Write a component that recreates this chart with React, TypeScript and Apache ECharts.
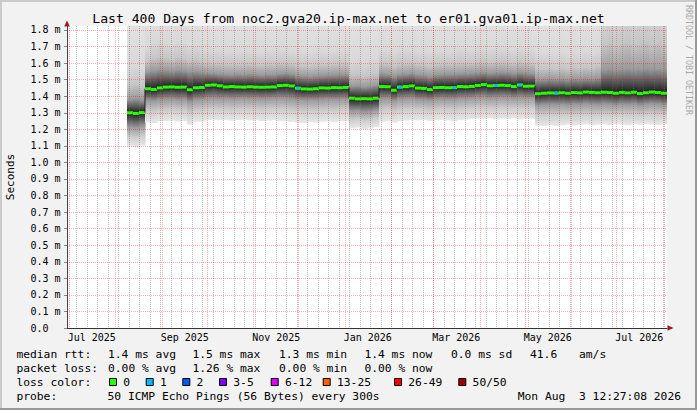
import React, { useEffect, useRef } from 'react';
import * as echarts from 'echarts';

const DAY = 86400000;
const T_START = Date.UTC(2025, 5, 29, 12, 27, 8);
const T_END = Date.UTC(2026, 7, 3, 12, 27, 8);
const COLUMN_START = Date.UTC(2025, 7, 8, 12, 0, 0);
const COLUMN_DAYS = 4;

// median RTT per 4-day column (ms)
const medianRtt = [
  1.300, 1.296, 1.301, 1.445, 1.441, 1.450, 1.455, 1.456, 1.454, 1.455,
  1.439, 1.451, 1.453, 1.466, 1.468, 1.463, 1.456, 1.458, 1.456, 1.455,
  1.457, 1.455, 1.454, 1.455, 1.456, 1.464, 1.466, 1.462, 1.448, 1.444,
  1.443, 1.445, 1.450, 1.449, 1.452, 1.451, 1.453, 1.388, 1.384, 1.385,
  1.384, 1.388, 1.458, 1.457, 1.436, 1.455, 1.458, 1.462, 1.449, 1.447,
  1.440, 1.452, 1.453, 1.451, 1.452, 1.458, 1.457, 1.459, 1.465, 1.470,
  1.463, 1.465, 1.466, 1.464, 1.458, 1.468, 1.460, 1.461, 1.415, 1.418,
  1.420, 1.419, 1.421, 1.418, 1.422, 1.420, 1.425, 1.423, 1.421, 1.424,
  1.422, 1.418, 1.423, 1.420, 1.424, 1.416, 1.421, 1.425, 1.422, 1.418,
];

// lost pings per column
const lossCount = [
  0, 0, 0, 0, 0, 0, 0, 0, 0, 0,
  0, 0, 0, 0, 0, 0, 0, 0, 0, 0,
  0, 0, 0, 0, 0, 0, 0, 0, 1, 0,
  0, 0, 0, 0, 0, 0, 0, 0, 0, 0,
  0, 0, 0, 0, 0, 1, 0, 0, 0, 0,
  0, 0, 0, 0, 1, 0, 0, 0, 0, 0,
  0, 1, 0, 0, 0, 1, 0, 0, 0, 0,
  0, 1, 0, 0, 0, 0, 0, 0, 0, 0,
  0, 0, 0, 0, 0, 0, 0, 0, 0, 0,
];

// smoke: lowest ping
const smokeLow = [
  1.095, 1.092, 1.100, 1.240, 1.238, 1.248, 1.250, 1.252, 1.247, 1.250,
  1.228, 1.245, 1.246, 1.255, 1.258, 1.254, 1.256, 1.252, 1.255, 1.258,
  1.253, 1.255, 1.250, 1.252, 1.255, 1.250, 1.248, 1.245, 1.240, 1.238,
  1.242, 1.240, 1.245, 1.248, 1.244, 1.247, 1.250, 1.205, 1.210, 1.200,
  1.205, 1.212, 1.245, 1.250, 1.240, 1.248, 1.252, 1.255, 1.253, 1.256,
  1.250, 1.254, 1.256, 1.253, 1.248, 1.255, 1.258, 1.262, 1.265, 1.262,
  1.266, 1.260, 1.264, 1.262, 1.265, 1.260, 1.263, 1.262, 1.222, 1.220,
  1.225, 1.220, 1.224, 1.228, 1.222, 1.226, 1.230, 1.224, 1.228, 1.230,
  1.226, 1.232, 1.228, 1.225, 1.230, 1.227, 1.232, 1.228, 1.226, 1.230,
];

// smoke: lower quartile
const smokeQ1 = [
  1.215, 1.210, 1.220, 1.375, 1.372, 1.378, 1.380, 1.382, 1.378, 1.380,
  1.365, 1.378, 1.380, 1.386, 1.388, 1.385, 1.387, 1.384, 1.386, 1.388,
  1.385, 1.386, 1.384, 1.385, 1.387, 1.388, 1.386, 1.382, 1.378, 1.376,
  1.377, 1.376, 1.380, 1.382, 1.380, 1.382, 1.384, 1.310, 1.312, 1.305,
  1.308, 1.315, 1.385, 1.386, 1.372, 1.384, 1.386, 1.388, 1.380, 1.379,
  1.375, 1.382, 1.384, 1.383, 1.382, 1.386, 1.387, 1.388, 1.392, 1.395,
  1.390, 1.392, 1.394, 1.393, 1.388, 1.392, 1.390, 1.391, 1.345, 1.348,
  1.350, 1.348, 1.350, 1.347, 1.351, 1.349, 1.353, 1.351, 1.349, 1.352,
  1.350, 1.346, 1.351, 1.349, 1.352, 1.345, 1.350, 1.353, 1.351, 1.347,
];

// smoke: upper quartile
const smokeQ3 = [
  1.380, 1.385, 1.375, 1.545, 1.555, 1.560, 1.558, 1.552, 1.560, 1.555,
  1.548, 1.550, 1.545, 1.540, 1.538, 1.535, 1.532, 1.530, 1.533, 1.531,
  1.534, 1.530, 1.528, 1.532, 1.530, 1.536, 1.538, 1.534, 1.525, 1.522,
  1.520, 1.524, 1.526, 1.528, 1.530, 1.532, 1.530, 1.462, 1.465, 1.458,
  1.462, 1.466, 1.535, 1.533, 1.522, 1.532, 1.535, 1.538, 1.530, 1.528,
  1.522, 1.530, 1.532, 1.534, 1.535, 1.536, 1.538, 1.540, 1.542, 1.545,
  1.540, 1.542, 1.545, 1.543, 1.538, 1.545, 1.540, 1.538, 1.500, 1.502,
  1.505, 1.503, 1.505, 1.500, 1.506, 1.504, 1.508, 1.506, 1.512, 1.560,
  1.565, 1.558, 1.562, 1.568, 1.560, 1.565, 1.570, 1.562, 1.566, 1.560,
];

// smoke: highest ping
const smokeHigh = [
  1.95, 1.97, 1.93, 2.00, 2.05, 2.08, 2.05, 2.02, 2.06, 2.04,
  2.00, 2.02, 1.98, 1.95, 1.94, 1.96, 1.93, 1.95, 1.94, 1.96,
  1.95, 1.93, 1.94, 1.96, 1.95, 1.97, 1.96, 1.94, 1.92, 1.93,
  1.92, 1.94, 1.95, 1.93, 1.95, 1.96, 1.94, 1.90, 1.92, 1.88,
  1.90, 1.92, 1.95, 1.96, 1.93, 1.95, 1.96, 1.97, 1.95, 1.94,
  1.93, 1.95, 1.96, 1.94, 1.95, 1.97, 1.96, 1.95, 1.97, 1.98,
  1.96, 1.97, 1.98, 1.96, 1.95, 1.97, 1.96, 1.95, 1.95, 1.93,
  1.94, 1.92, 1.95, 1.93, 1.96, 1.94, 1.97, 1.95, 1.99, 2.60,
  2.65, 2.55, 2.62, 2.70, 2.58, 2.64, 2.68, 2.60, 2.66, 2.58,
];

const monthLabels = ['Jul 2025', 'Sep 2025', 'Nov 2025', 'Jan 2026', 'Mar 2026', 'May 2026', 'Jul 2026'];
const monthLabelYM = [[2025, 6], [2025, 8], [2025, 10], [2026, 0], [2026, 2], [2026, 4], [2026, 6]];
const yTickValues = [0, 0.1, 0.2, 0.3, 0.4, 0.5, 0.6, 0.7, 0.8, 0.9, 1.0, 1.1, 1.2, 1.3, 1.4, 1.5, 1.6, 1.7, 1.8];

const titleText = 'Last 400 Days from noc2.gva20.ip-max.net to er01.gva01.ip-max.net';
const rttLegend = ['1.4 ms avg', '1.5 ms max', '1.3 ms min', '1.4 ms now', '0.0 ms sd', '41.6', 'am/s'];
const lossLegend = ['0.00 % avg', '1.26 % max', '0.00 % min', '0.00 % now'];
const lossClasses = ['0', '1', '2', '3-5', '6-12', '13-25', '26-49', '50/50'];
const lossColors = ['#26ff00', '#00b8ff', '#0059ff', '#7e00ff', '#dd00ff', '#ff5e00', '#ff0000', '#a10000'];
const probeText = '50 ICMP Echo Pings (56 Bytes) every 300s';
const dateText = 'Mon Aug  3 12:27:08 2026';

const MONO = '"DejaVu Sans Mono", monospace';

function buildOption() {
  const labelValues = monthLabelYM.map(([y, m]) => Date.UTC(y, m, 16));
  const labelMap = new Map<number, string>();
  labelValues.forEach((v, i) => labelMap.set(v, monthLabels[i]));

  const monthStarts: number[] = [];
  for (let i = 0; i < 14; i++) monthStarts.push(Date.UTC(2025, 6 + i, 1));
  const weekLines: number[] = [];
  for (let t = Date.UTC(2025, 6, 6); t < T_END; t += 7 * DAY) weekLines.push(t);

  const smokeData = medianRtt.map((m, i) => [
    COLUMN_START + i * COLUMN_DAYS * DAY,
    COLUMN_START + (i + 1) * COLUMN_DAYS * DAY,
    smokeLow[i], smokeQ1[i], m, smokeQ3[i], smokeHigh[i],
  ]);
  const medianData = medianRtt.map((m, i) => [
    COLUMN_START + i * COLUMN_DAYS * DAY,
    COLUMN_START + (i + 1) * COLUMN_DAYS * DAY,
    m, i > 0 ? medianRtt[i - 1] : null, lossCount[i],
  ]);

  const hiddenX = (ticks: number[], color: string) => ({
    type: 'value', min: T_START, max: T_END, show: true, z: 3,
    axisLine: { show: false }, axisLabel: { show: false },
    axisTick: { show: false, customValues: ticks },
    splitLine: { show: true, lineStyle: { color, width: 1, type: [1, 1] } },
  });

  const text = (t: string, x: number, y: number, size: number, extra: any = {}) => ({
    type: 'text', x, y, z: 10,
    style: { text: t, fill: '#000', fontFamily: MONO, fontSize: size, align: 'left', verticalAlign: 'middle', ...extra },
  });

  const graphics: any[] = [
    { type: 'rect', shape: { x: 0, y: 0, width: 697, height: 2 }, style: { fill: '#cbcbcb' }, z: 1 },
    { type: 'rect', shape: { x: 0, y: 0, width: 2, height: 410 }, style: { fill: '#cbcbcb' }, z: 1 },
    { type: 'rect', shape: { x: 0, y: 408, width: 697, height: 2 }, style: { fill: '#999999' }, z: 1 },
    { type: 'rect', shape: { x: 695, y: 0, width: 2, height: 410 }, style: { fill: '#999999' }, z: 1 },
    { type: 'polygon', shape: { points: [[64.2, 26.5], [69.8, 26.5], [67, 20.5]] }, style: { fill: '#9c1c1c' }, z: 10 },
    { type: 'polygon', shape: { points: [[667.5, 325.2], [667.5, 330.8], [673.5, 328]] }, style: { fill: '#9c1c1c' }, z: 10 },
    text(titleText, 348.5, 18.5, 13.1, { align: 'center' }),
    { type: 'text', x: 688.5, y: 5, rotation: -Math.PI / 2, z: 10,
      style: { text: 'RRDTOOL / TOBI OETIKER', fill: '#a8a8a8', fontFamily: MONO, fontSize: 8.3, align: 'left', verticalAlign: 'middle' } },
    { type: 'text', x: 10.5, y: 177, rotation: Math.PI / 2, z: 10,
      style: { text: 'Seconds', fill: '#000', fontFamily: MONO, fontSize: 11, align: 'center', verticalAlign: 'middle' } },
    text('median rtt:', 16.4, 354.3, 11.3),
    text('packet loss:', 16.4, 368.3, 11.3),
    text('loss color:', 16.4, 382.2, 11.3),
    text('probe:', 16.4, 396.7, 11.3),
    text(probeText, 107.5, 396.7, 11.3),
    text(dateText, 681, 396.7, 11.3, { align: 'right' }),
  ];
  const rttX = [108, 192.4, 279, 364.4, 451, 530, 579];
  rttLegend.forEach((s, i) => graphics.push(text(s, rttX[i], 354.3, 11.3)));
  lossLegend.forEach((s, i) => graphics.push(text(s, rttX[i], 368.3, 11.3)));
  const boxX = [109, 145.7, 182.3, 219, 270.7, 322.7, 394, 458.3];
  lossClasses.forEach((s, i) => {
    graphics.push({ type: 'rect', z: 10, shape: { x: boxX[i] + 0.5, y: 378.5, width: 7, height: 7 },
      style: { fill: lossColors[i], stroke: '#000', lineWidth: 1 } });
    graphics.push(text(s, boxX[i] + 14.3, 382.2, 11.3));
  });

  return {
    animation: false,
    backgroundColor: '#f2f2f2',
    grid: { left: 67, right: 30, top: 26, bottom: 82, show: true, backgroundColor: '#ffffff', borderWidth: 0 },
    xAxis: [
      {
        type: 'value', min: T_START, max: T_END, position: 'bottom', z: 4,
        axisLine: { show: true, lineStyle: { color: '#333333', width: 1 } },
        axisTick: { show: false },
        splitLine: { show: false },
        axisLabel: {
          customValues: labelValues,
          formatter: (v: number) => labelMap.get(v) ?? '',
          fontFamily: MONO, fontSize: 10, color: '#000', margin: 4,
        },
      },
      hiddenX(weekLines, 'rgba(110,110,110,0.45)'),
      hiddenX(monthStarts, 'rgba(255,0,0,0.32)'),
    ],
    yAxis: {
      type: 'value', min: 0, max: 1.824, z: 4,
      axisLine: { show: true, lineStyle: { color: '#444444', width: 1 } },
      axisTick: { show: true, customValues: yTickValues, length: 3, lineStyle: { color: '#888888' } },
      axisLabel: {
        customValues: yTickValues,
        formatter: (v: number) => (v === 0 ? '0.0' : v.toFixed(1) + ' m'),
        fontFamily: MONO, fontSize: 10, color: '#000', align: 'left', margin: 36.5,
      },
      splitLine: { show: true, lineStyle: { color: 'rgba(255,0,0,0.32)', width: 1, type: [1, 1] } },
    },
    graphic: { elements: graphics },
    series: [
      {
        type: 'custom', name: 'smoke', xAxisIndex: 0, yAxisIndex: 0, z: 1, clip: true,
        encode: { x: [0, 1], y: [2, 6] },
        data: smokeData,
        renderItem: (params: any, api: any) => {
          const ts = api.value(0), te = api.value(1);
          const lo = api.value(2), q1 = api.value(3), md = api.value(4), q3 = api.value(5), hi = api.value(6);
          const a = api.coord([ts, hi]);
          const b = api.coord([te, lo]);
          const span = hi - lo;
          const off = (v: number) => Math.min(1, Math.max(0, (hi - v) / span));
          return {
            type: 'rect',
            shape: { x: a[0], y: a[1], width: b[0] - a[0] + 0.6, height: b[1] - a[1] },
            style: {
              fill: new echarts.graphic.LinearGradient(0, 0, 0, 1, [
                { offset: 0, color: '#e6e6e6' },
                { offset: off(q3 + 0.35 * (hi - q3)), color: '#d9d9d9' },
                { offset: off(q3 + 0.15 * (hi - q3)), color: '#c6c6c6' },
                { offset: off(q3), color: '#9a9a9a' },
                { offset: off(md), color: '#1c1c1c' },
                { offset: off(q1), color: '#9a9a9a' },
                { offset: off(lo + 0.5 * (q1 - lo)), color: '#cdcdcd' },
                { offset: 1, color: '#e8e8e8' },
              ]),
            },
          };
        },
      },
      {
        type: 'custom', name: 'median', xAxisIndex: 0, yAxisIndex: 0, z: 6, clip: true,
        encode: { x: [0, 1], y: 2 },
        data: medianData,
        renderItem: (params: any, api: any) => {
          const ts = api.value(0), te = api.value(1), md = api.value(2), prev = api.value(3), loss = api.value(4);
          const a = api.coord([ts, md]);
          const b = api.coord([te, md]);
          const children: any[] = [];
          if (!isNaN(prev)) {
            const p = api.coord([ts, prev]);
            children.push({ type: 'line', shape: { x1: a[0], y1: p[1], x2: a[0], y2: a[1] }, style: { stroke: '#202020', lineWidth: 1 } });
          }
          children.push({ type: 'line', shape: { x1: a[0], y1: a[1], x2: b[0], y2: b[1] }, style: { stroke: lossColors[0], lineWidth: 3 } });
          if (loss > 0) {
            const mid = (a[0] + b[0]) / 2;
            children.push({ type: 'line', shape: { x1: mid - 1.5, y1: a[1], x2: mid + 1.5, y2: a[1] }, style: { stroke: lossColors[1], lineWidth: 3 } });
          }
          return { type: 'group', children };
        },
      },
    ],
  };
}

export default function App() {
  const ref = useRef<HTMLDivElement>(null);
  useEffect(() => {
    document.body.style.margin = '0';
    if (!ref.current) return;
    const chart = echarts.init(ref.current, null, { renderer: 'svg' });
    chart.setOption(buildOption() as any);
    return () => chart.dispose();
  }, []);
  return <div ref={ref} style={{ width: 697, height: 410 }} />;
}
